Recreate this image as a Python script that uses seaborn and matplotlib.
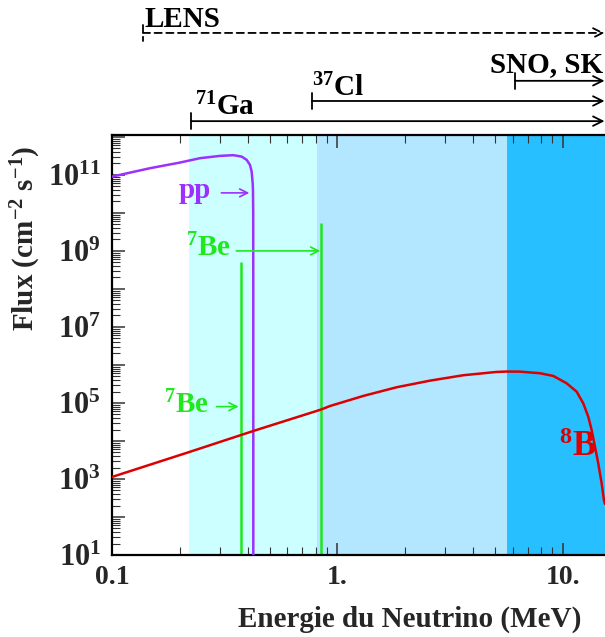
import numpy as np
import pandas as pd
import matplotlib
matplotlib.use("Agg")
import matplotlib.pyplot as plt
import matplotlib.ticker as mticker
import matplotlib.transforms as mtransforms
import seaborn as sns

# ---------------- data ----------------
pp_energy = [0.100, 0.1475, 0.2003, 0.2457, 0.3014, 0.3452, 0.3761, 0.396, 0.4095, 0.4166,
             0.4209, 0.4222, 0.4232, 0.4235, 0.4237]
pp_flux = [9.0e10, 1.5e11, 2.11e11, 2.75e11, 3.16e11, 3.3e11, 3.03e11, 2.48e11, 1.83e11, 1.22e11,
           6.05e10, 4.0e10, 1.0e10, 1.0e8, 1.0]

b8_energy = [0.100, 0.222, 0.4235, 0.846, 0.927, 1.303, 1.833, 2.575, 3.62, 5.09, 5.64, 6.46, 7.92,
             9.08, 10.4, 11.53, 12.33, 12.98, 13.43, 13.9, 14.37, 14.88, 15.23, 15.4]
b8_flux = [1.13e3, 5.2e3, 1.83e4, 6.7e4, 8.3e4, 1.53e5, 2.59e5, 3.86e5, 5.36e5, 6.55e5, 6.7e5, 6.67e5,
           6.05e5, 5.14e5, 3.3e5, 1.98e5, 9.8e4, 4.35e4, 1.95e4, 7.1e3, 2.59e3, 7.7e2, 2.8e2, 2.2e2]

be_energy = [0.372, 0.848]
be_flux = [5.2e8, 5.4e9]

region_edges = [0.22, 0.81, 5.64, 15.4]
region_colors = ["#CCFFFF", "#B3E6FF", "#27BFFF"]

det_names = ["LENS", "SNO, SK", "$^{37}$Cl", "$^{71}$Ga"]
det_thresholds = [0.137, 6.14, 0.77, 0.224]

x_ticks = [0.1, 1.0, 10.0]
x_ticklabels = ["0.1", "1.", "10."]

pp_arrow_flux = 3.36e10
be_arrow_flux = [8.0e4, 1.0e9]
b8_label_pos = (11.68, 4.0e3)

# ---------------- layout / style ----------------
det_arrow_y = [1.243, 1.129, 1.081, 1.033]          # axes fraction
det_text_off = [(2, 6), (-25, 9), (0, 5), (4, 6)]   # pixels
PURPLE = "#9B30FF"
GREEN = "#1FE81F"
RED = "#DD0000"

sns.set_theme(style="ticks")
plt.rcParams.update({
    "font.family": ["Liberation Serif", "DejaVu Serif"],
    "font.weight": "bold",
    "mathtext.fontset": "custom",
    "mathtext.rm": "Liberation Serif:bold",
    "mathtext.it": "Liberation Serif:bold",
    "mathtext.bf": "Liberation Serif:bold",
    "mathtext.default": "rm",
    "axes.linewidth": 1.6,
})

fig = plt.figure(figsize=(6.05, 6.37), dpi=100)
ax = fig.add_axes([112 / 605, 82 / 637, 493 / 605, 420 / 637])
ax.set_xscale("log")
ax.set_yscale("log")

# shaded detector regions
for lo, hi, c in zip(region_edges[:-1], region_edges[1:], region_colors):
    ax.axvspan(lo, hi, color=c, lw=0, zorder=0)

pp_df = pd.DataFrame({"E": pp_energy, "F": pp_flux})
b8_df = pd.DataFrame({"E": b8_energy, "F": b8_flux})
sns.lineplot(data=pp_df, x="E", y="F", ax=ax, color=PURPLE, lw=1.8, estimator=None, sort=False, zorder=3)
sns.lineplot(data=b8_df, x="E", y="F", ax=ax, color=RED, lw=1.8, estimator=None, sort=False, zorder=3)
ax.vlines(be_energy, 1.0, be_flux, color=GREEN, lw=1.8, zorder=2)
ax.set_xlim(0.1, 15.4)
ax.set_ylim(10, 1.12e12)

# ticks
ax.xaxis.set_major_locator(mticker.FixedLocator(x_ticks))
ax.xaxis.set_major_formatter(mticker.FixedFormatter(x_ticklabels))
ax.xaxis.set_minor_locator(mticker.LogLocator(base=10, subs=np.arange(2, 10), numticks=100))
ax.xaxis.set_minor_formatter(mticker.NullFormatter())
ax.yaxis.set_major_locator(mticker.LogLocator(base=10, subs=(1.0,), numticks=100))
ax.yaxis.set_minor_locator(mticker.LogLocator(base=10, subs=np.arange(2, 10), numticks=200))
ax.yaxis.set_minor_formatter(mticker.NullFormatter())


def ylab(v, pos):
    e = int(round(np.log10(v)))
    return r"$10^{%d}$" % e if e % 2 == 1 else ""


ax.yaxis.set_major_formatter(mticker.FuncFormatter(ylab))
ax.tick_params(which="both", direction="in", top=True, right=False, color="#333333")
ax.tick_params(which="major", length=9, width=1.1, pad=7)
ax.tick_params(which="minor", length=5.5, width=0.8)
ax.tick_params(axis="x", which="major", labelsize=20)
ax.tick_params(axis="y", which="major", labelsize=22, pad=8)
for lab in ax.get_xticklabels() + ax.get_yticklabels():
    lab.set_fontweight("bold")
ax.spines["right"].set_visible(False)
for s in ("left", "bottom", "top"):
    ax.spines[s].set_color("black")

ax.set_xlabel("Energie du Neutrino (MeV)", fontsize=21, fontweight="bold")
ax.set_ylabel("Flux (cm$^{-2}$ s$^{-1}$)", fontsize=21, fontweight="bold")
ax.xaxis.set_label_coords(0.604, -0.12)
ax.yaxis.set_label_coords(-0.14, 0.755)

# detector threshold arrows above the plot
blend = mtransforms.blended_transform_factory(ax.transData, ax.transAxes)
for name, thr, yl, (dx, dy) in zip(det_names, det_thresholds, det_arrow_y, det_text_off):
    props = dict(arrowstyle="]->, widthA=0.35, lengthA=0", mutation_scale=17, lw=1.3,
                 color="black", shrinkA=0, shrinkB=0)
    if name == "LENS":
        props["linestyle"] = (0, (4, 2.5))
    ax.annotate("", xy=(0.999, yl), xycoords="axes fraction", xytext=(thr, yl), textcoords=blend,
                arrowprops=props, annotation_clip=False)
    ax.text(thr, yl, name, transform=mtransforms.offset_copy(blend, fig=fig, x=dx, y=dy, units="dots"),
            ha="left", va="baseline", fontsize=21, fontweight="bold", color="black", clip_on=False)


def off(dx, dy):
    return mtransforms.offset_copy(ax.transData, fig=fig, x=dx, y=dy, units="dots")


small_arrow = dict(arrowstyle="->", lw=1.2, mutation_scale=14, shrinkA=0, shrinkB=0)

# pp label
pp_end = pp_energy[-1]
ax.annotate("", xy=(pp_end, pp_arrow_flux), xycoords=off(-4, 0), xytext=(pp_end, pp_arrow_flux),
            textcoords=off(-32, 0), arrowprops=dict(small_arrow, color=PURPLE))
ax.text(pp_end, pp_arrow_flux, "pp", transform=off(-42, -5), ha="right", va="baseline",
        fontsize=21, fontweight="bold", color=PURPLE)

# 7Be labels
ax.annotate("", xy=(be_energy[1], be_arrow_flux[1]), xycoords=off(-1, 0),
            xytext=(be_energy[1], be_arrow_flux[1]), textcoords=off(-85, 0),
            arrowprops=dict(small_arrow, color=GREEN))
ax.text(be_energy[1], be_arrow_flux[1], "$^{7}$Be", transform=off(-91, -5), ha="right", va="baseline",
        fontsize=21, fontweight="bold", color=GREEN)
ax.annotate("", xy=(be_energy[0], be_arrow_flux[0]), xycoords=off(-2, 0),
            xytext=(be_energy[0], be_arrow_flux[0]), textcoords=off(-24, 0),
            arrowprops=dict(small_arrow, color=GREEN))
ax.text(be_energy[0], be_arrow_flux[0], "$^{7}$Be", transform=off(-32, -6.6), ha="right", va="baseline",
        fontsize=21, fontweight="bold", color=GREEN)

# 8B label
ax.text(b8_label_pos[0], b8_label_pos[1], "$^{8}$B", ha="center", va="baseline",
        fontsize=25, fontweight="bold", color=RED, zorder=4)

fig.savefig("out.png", dpi=100)
